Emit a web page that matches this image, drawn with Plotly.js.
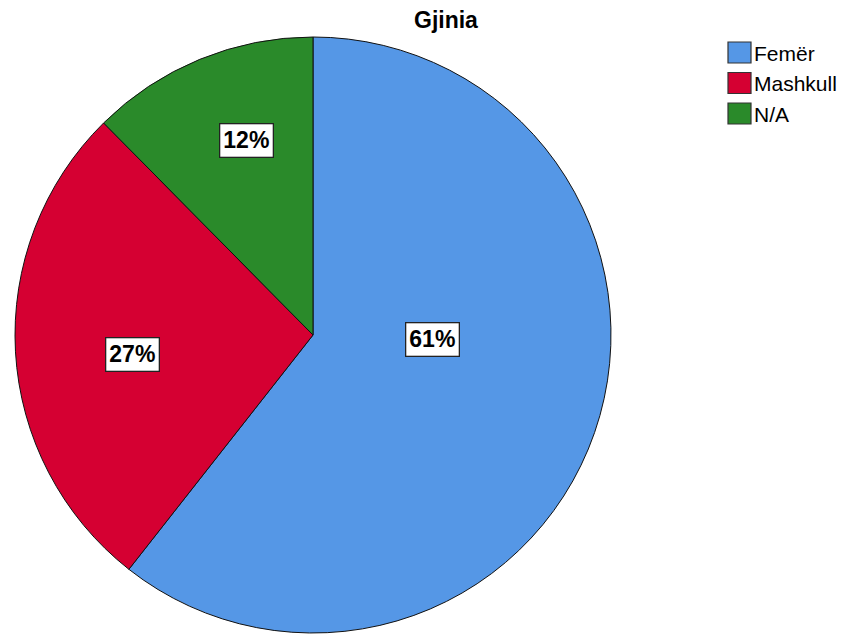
<!DOCTYPE html>
<html>
<head>
<meta charset="utf-8">
<script src="https://cdn.plot.ly/plotly-3.0.1.min.js"></script>
<style>html,body{margin:0;padding:0;background:#fff;}#chart{width:853px;height:635px;}</style>
</head>
<body>
<div id="chart"></div>
<script>
const categories = ["Femër", "Mashkull", "N/A"];
const percents = [60.6, 27.0, 12.4];
const colors = ["#5597e6", "#d50032", "#2a8a2a"];
const chartTitle = "Gjinia";

const W = 853, H = 635;
const cx = 313, cy = 335, R = 298;
// label placement tweaks (radius fraction, angle offset in degrees)
const labelRadius = [0.40, 0.61, 0.69];
const labelAngleOffset = [-17, -3, 3.5];

const total = percents.reduce((a, b) => a + b, 0);
const annotations = [];
const shapes = [];
let cum = 0;
percents.forEach((v, i) => {
  const mid = (cum + v / 2) / total * 360 + labelAngleOffset[i];
  cum += v;
  const a = mid * Math.PI / 180;
  const px = cx + labelRadius[i] * R * Math.sin(a);
  const py = cy - labelRadius[i] * R * Math.cos(a);
  annotations.push({
    x: px / W, y: 1 - py / H, xref: "paper", yref: "paper",
    text: "<b>" + Math.round(v / total * 100) + "%</b>",
    showarrow: false,
    font: { family: "Liberation Sans, Arial, sans-serif", size: 23, color: "#000" },
    bgcolor: "#ffffff", bordercolor: "#222", borderwidth: 1.3, borderpad: 3,
    xanchor: "center", yanchor: "middle"
  });
});

// legend
const lx = 728, ly0 = 42, lstep = 30.5, lw = 23, lh = 21;
categories.forEach((c, i) => {
  const top = ly0 + i * lstep;
  shapes.push({
    type: "rect", xref: "paper", yref: "paper",
    x0: lx / W, x1: (lx + lw) / W, y0: 1 - (top + lh) / H, y1: 1 - top / H,
    fillcolor: colors[i], line: { color: "#333", width: 1.2 }
  });
  annotations.push({
    x: (lx + lw + 1) / W, y: 1 - (top + lh / 2 + 1) / H, xref: "paper", yref: "paper",
    text: c, showarrow: false, xanchor: "left", yanchor: "middle",
    font: { family: "Liberation Sans, Arial, sans-serif", size: 21, color: "#000" }
  });
});

// title
annotations.push({
  x: 446 / W, y: 1 - 20 / H, xref: "paper", yref: "paper",
  text: "<b>" + chartTitle + "</b>", showarrow: false, xanchor: "center", yanchor: "middle",
  font: { family: "Liberation Sans, Arial, sans-serif", size: 23, color: "#000" }
});

const trace = {
  type: "pie",
  labels: categories,
  values: percents,
  sort: false,
  direction: "clockwise",
  rotation: 0,
  textinfo: "none",
  hoverinfo: "label+percent",
  marker: { colors: colors, line: { color: "#111", width: 1 } },
  domain: { x: [(cx - R) / W, (cx + R) / W], y: [1 - (cy + R) / H, 1 - (cy - R) / H] },
  showlegend: false
};

const layout = {
  width: W, height: H,
  margin: { l: 0, r: 0, t: 0, b: 0 },
  paper_bgcolor: "#fff",
  showlegend: false,
  annotations: annotations,
  shapes: shapes
};

Plotly.newPlot("chart", [trace], layout, { displayModeBar: false, staticPlot: true });
</script>
</body>
</html>
